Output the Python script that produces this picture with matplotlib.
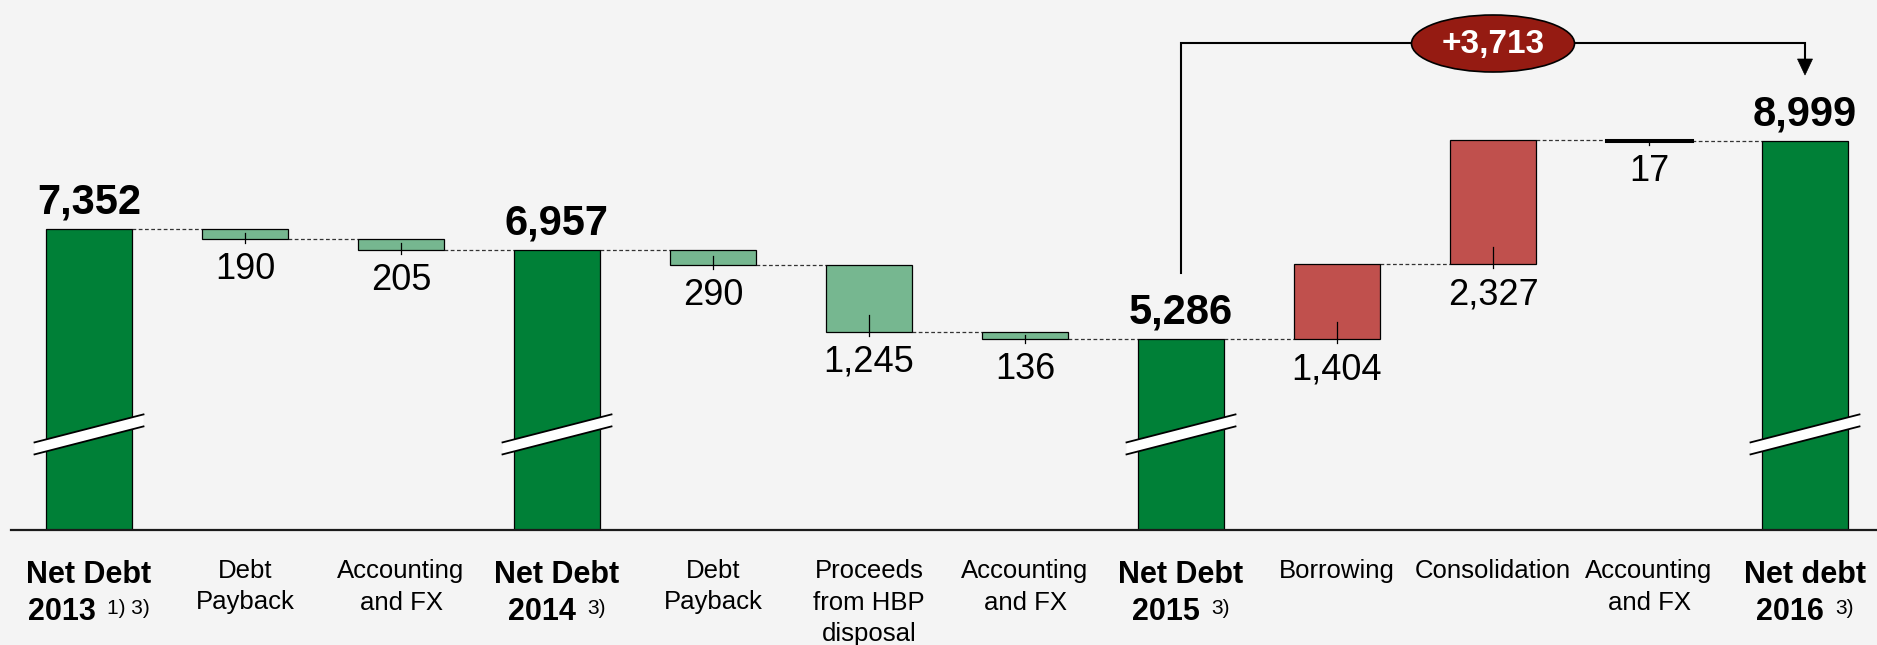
import numpy as np
import matplotlib
matplotlib.use("Agg")
import matplotlib.pyplot as plt
from matplotlib.patches import Ellipse, Polygon

plt.rcParams['font.family'] = ['Liberation Sans', 'DejaVu Sans']

# ---- data ----
labels = ["Net Debt\n2013", "Debt\nPayback", "Accounting\nand FX", "Net Debt\n2014",
          "Debt\nPayback", "Proceeds\nfrom HBP\ndisposal", "Accounting\nand FX", "Net Debt\n2015",
          "Borrowing", "Consolidation", "Accounting\nand FX", "Net debt\n2016"]
footnotes = {0: "1) 3)", 3: "3)", 7: "3)", 11: "3)"}
total_idx = [0, 3, 7, 11]
totals = [7352, 6957, 5286, 8999]
delta_idx = [1, 2, 4, 5, 6, 8, 9, 10]
deltas = [-190, -205, -290, -1245, -136, 1404, 2327, -17]
bracket_from, bracket_to, bracket_value = 7, 11, 8999 - 5286

BG = "#f4f4f4"
C_TOTAL = "#008037"
C_DOWN = "#76b790"
C_UP = "#c0504d"
C_OVAL = "#951b12"

DPI = 100
W, H = 1877, 645
fig = plt.figure(figsize=(W / DPI, H / DPI), dpi=DPI, facecolor=BG)
base_px = 530.5
ax = fig.add_axes([0, (H - base_px) / H, 1, base_px / H])
ax.set_facecolor(BG)
for s in ax.spines.values():
    s.set_visible(False)
ax.set_xticks([])
ax.set_yticks([])

step_px = 156.0
x0_px = 89.0
ax.set_xlim(-x0_px / step_px, (W - x0_px) / step_px)
ppu = 198.0 / 3713  # pixels per unit
y_top_val = 8999 + 141 / ppu
y_bot_val = 8999 - (base_px - 141) / ppu
ax.set_ylim(y_bot_val, y_top_val)

bw = 86 / step_px
px = 1.0 / ppu  # one pixel in data units

# waterfall geometry
order = sorted(total_idx + delta_idx)
spans = {}
end_level = {}
running = None
for i in order:
    if i in total_idx:
        running = totals[total_idx.index(i)]
        spans[i] = (0, running)
    else:
        d = deltas[delta_idx.index(i)]
        start = running
        running = running + d
        spans[i] = (min(start, running), max(start, running))
    end_level[i] = running

# bars
for i, v in zip(total_idx, totals):
    ax.bar(i, v, width=bw, bottom=0, color=C_TOTAL, edgecolor="black", linewidth=0.9, zorder=3)
    ax.annotate(f"{v:,}", xy=(i, v), xytext=(0, 15.5 * 0.72), textcoords="offset points",
                ha="center", va="baseline", fontsize=30, fontweight="bold", zorder=5)

for i, d in zip(delta_idx, deltas):
    lo, hi = spans[i]
    col = C_UP if d > 0 else C_DOWN
    ax.bar(i, hi - lo, width=bw, bottom=lo, color=col, edgecolor="black",
           linewidth=0.9 if abs(d) > 50 else 2.2, zorder=3)
    h_px = (hi - lo) * ppu
    t_start = lo + min(17, 0.6 * h_px) * px
    ax.plot([i, i], [t_start, lo - 4 * px], color="black", lw=0.9, zorder=4)
    ax.annotate(f"{abs(d):,}", xy=(i, lo), xytext=(0, -40 * 0.72), textcoords="offset points",
                ha="center", va="baseline", fontsize=26, zorder=5)

# dashed connectors
for a, b in zip(order[:-1], order[1:]):
    lvl = end_level[a]
    ax.plot([a + bw / 2, b - bw / 2], [lvl, lvl], color="#333333", lw=0.9,
            dashes=(3, 2), zorder=2)

# axis break marks on total bars
brk_c = 8999 - (434.4 - 141) / ppu
half_w = 54.5 / step_px
half_rise = 14 * px
half_t = 6 * px
for i in total_idx:
    xl, xr = i - half_w, i + half_w
    yl, yr = brk_c - half_rise, brk_c + half_rise
    poly = Polygon([[xl, yl - half_t], [xr, yr - half_t], [xr, yr + half_t], [xl, yl + half_t]],
                   closed=True, facecolor="white", edgecolor="none", zorder=6)
    ax.add_patch(poly)
    ax.plot([xl, xr], [yl - half_t, yr - half_t], color="black", lw=1.3, zorder=7)
    ax.plot([xl, xr], [yl + half_t, yr + half_t], color="black", lw=1.3, zorder=7)

# baseline
ax.plot([-0.5, ax.get_xlim()[1]], [y_bot_val + 0.5 * px] * 2, color="#1a1a1a", lw=1.6,
        zorder=8, clip_on=False)

# bracket with difference
yb = 8999 + (141 - 43) / ppu
y_from = 8999 - (273 - 141) / ppu
y_tip = 8999 + (141 - 75) / ppu
ax.plot([bracket_from, bracket_from, bracket_to, bracket_to],
        [y_from, yb, yb, y_tip + 15 * px], color="black", lw=1.5, zorder=4,
        solid_joinstyle="miter")
aw = 7.5 / step_px
ax.add_patch(Polygon([[bracket_to - aw, y_tip + 16 * px], [bracket_to + aw, y_tip + 16 * px],
                      [bracket_to, y_tip]], closed=True, facecolor="black",
                     edgecolor="black", lw=0.5, zorder=5))
xe = (bracket_from + bracket_to) / 2
ax.add_patch(Ellipse((xe, 8999 + (141 - 43.5) / ppu), 163 / step_px, 57 * px,
                     facecolor=C_OVAL, edgecolor="black", lw=1.2, zorder=6))
ax.text(xe, 8999 + (141 - 43.5) / ppu - 1 * px, f"+{bracket_value:,}", ha="center", va="center",
        color="white", fontsize=24, fontweight="bold", zorder=7)

# category labels
pt = 72.0 / DPI
renderer = fig.canvas.get_renderer()
for i, lab in enumerate(labels):
    lines = lab.split("\n")
    if i in total_idx:
        ax.annotate(lines[0], xy=(i, 0), xycoords=("data", "axes fraction"),
                    xytext=(0, -52.5 * pt), textcoords="offset points",
                    ha="center", va="baseline", fontsize=22, fontweight="bold",
                    annotation_clip=False)
        t1 = ax.annotate(lines[1], xy=(i, 0), xycoords=("data", "axes fraction"),
                         xytext=(0, -89.5 * pt), textcoords="offset points",
                         ha="left", va="baseline", fontsize=22, fontweight="bold",
                         annotation_clip=False)
        t2 = ax.annotate(footnotes[i], xy=(i, 0), xycoords=("data", "axes fraction"),
                         xytext=(0, -83 * pt), textcoords="offset points",
                         ha="left", va="baseline", fontsize=15,
                         annotation_clip=False)
        w1 = t1.get_window_extent(renderer).width
        w2 = t2.get_window_extent(renderer).width
        gap = 11
        total = w1 + gap + w2
        t1.set_position((-total / 2 * pt, -89.5 * pt))
        t2.set_position(((-total / 2 + w1 + gap) * pt, -83 * pt))
    else:
        for k, line in enumerate(lines):
            ax.annotate(line, xy=(i, 0), xycoords=("data", "axes fraction"),
                        xytext=(0, -(47.5 + 31.5 * k) * pt), textcoords="offset points",
                        ha="center", va="baseline", fontsize=18.5,
                        annotation_clip=False)

fig.savefig("out.png", dpi=DPI, facecolor=BG)
